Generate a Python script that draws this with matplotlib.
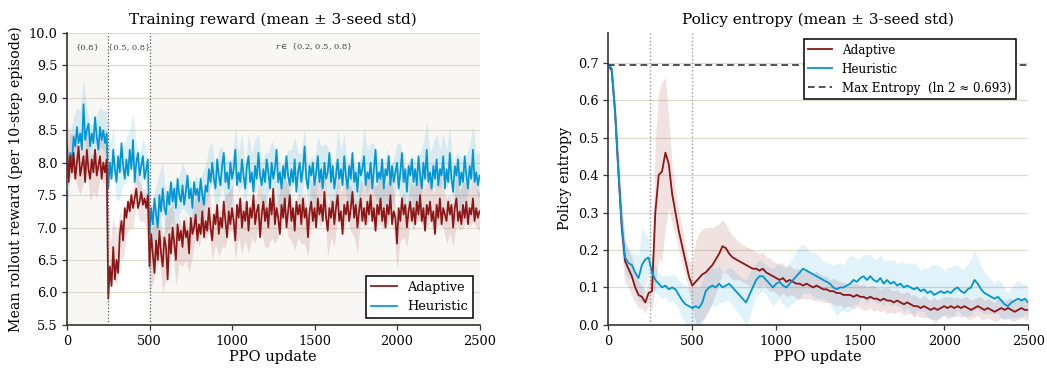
import numpy as np
import matplotlib
matplotlib.use('Agg')
import matplotlib.pyplot as plt

plt.rcParams['font.family'] = ['DejaVu Serif']
plt.rcParams['mathtext.fontset'] = 'dejavuserif'

# reward curves were read every 10 updates, everything else every 20
updates_fine = np.arange(0, 2501, 10)
updates = np.arange(0, 2501, 20)
phase_edges = [250, 500]

heur_reward = [
    7.6, 7.9, 8.15, 8.0, 8.4, 8.25, 8.55, 8.3, 8.45, 8.2, 8.9, 8.35, 8.5, 8.6, 8.25, 8.45, 8.3, 8.7, 8.4, 8.2,
    8.55, 8.35, 8.5, 8.3, 8.45,
    7.6, 8.0, 7.75, 8.2, 7.9, 7.7, 8.1, 7.85, 8.3, 7.95, 7.75, 8.05, 7.8, 8.2, 7.9, 8.35, 7.7, 8.0, 8.15, 7.8,
    7.95, 8.1, 7.75, 7.9, 8.05,
    6.9, 7.3, 7.05, 7.45, 7.2, 7.0, 7.5, 7.25, 7.6, 7.3,
    7.2, 7.55, 7.35, 7.7, 7.4, 7.6, 7.3, 7.75, 7.5, 7.4,
    7.65, 7.35, 7.55, 7.8, 7.45, 7.6, 7.3, 7.7, 7.5, 7.6,
    7.4, 7.75, 7.5, 7.35, 7.65, 7.55, 7.9, 7.7, 8.0, 7.75,
    7.6, 8.05, 7.8, 7.65, 7.95, 8.15, 7.7, 7.85, 7.6, 8.0,
    7.75, 7.9, 8.2, 7.65, 7.85, 7.7, 8.05, 7.8, 7.6, 7.95,
    8.1, 7.7, 7.85, 7.55, 7.95, 7.75, 8.15, 7.8, 7.65, 7.9,
    7.7, 8.05, 7.85, 7.6, 8.0, 7.75, 7.9, 8.2, 7.7, 7.85,
    7.6, 7.95, 7.75, 8.1, 7.8, 7.65, 7.9, 7.7, 8.05, 7.55,
    7.85, 8.0, 7.7, 7.9, 8.25, 7.75, 7.6, 7.95, 7.8, 8.0,
    7.65, 7.85, 8.1, 7.7, 7.9, 7.6, 8.0, 7.75, 7.85, 8.15,
    7.7, 7.95, 7.6, 7.8, 8.05, 7.75, 7.9, 7.65, 8.1, 7.8,
    7.6, 7.95, 7.75, 8.15, 7.7, 7.85, 7.55, 8.0, 7.8, 7.9,
    8.1, 7.65, 7.85, 7.75, 8.0, 7.6, 7.9, 8.2, 7.7, 7.85,
    7.75, 8.05, 7.6, 7.9, 7.8, 8.1, 7.65, 7.95, 7.7, 7.85,
    8.0, 7.6, 7.85, 8.15, 7.7, 7.9, 7.55, 7.95, 7.8, 8.05,
    7.7, 7.9, 7.65, 8.1, 7.8, 7.6, 8.0, 7.75, 8.2, 7.7,
    7.85, 7.6, 7.95, 7.75, 8.05, 7.65, 7.9, 7.8, 8.1, 7.6,
    7.9, 7.7, 8.15, 7.75, 7.55, 7.95, 7.8, 8.05, 7.65, 7.85,
    7.7, 8.1, 7.8, 7.6, 7.95, 7.75, 8.2, 7.7, 7.85, 7.65,
    7.8]
heur_reward_std = [
    0.4, 0.35, 0.3, 0.3, 0.35, 0.4, 0.3, 0.35, 0.3, 0.35, 0.3, 0.3, 0.35,
    0.3, 0.35, 0.3, 0.4, 0.3, 0.35, 0.3, 0.4, 0.3, 0.35, 0.3, 0.3,
    0.4, 0.35, 0.45, 0.35, 0.4, 0.3, 0.35, 0.3, 0.35, 0.3, 0.35, 0.3, 0.3, 0.35, 0.3, 0.3, 0.35, 0.3, 0.35, 0.3,
    0.3, 0.4, 0.3, 0.35, 0.45, 0.3, 0.35, 0.3, 0.4, 0.3, 0.35, 0.3, 0.4, 0.3, 0.35, 0.45, 0.3, 0.35, 0.3, 0.4,
    0.3, 0.35, 0.4, 0.3, 0.35, 0.3, 0.45, 0.3, 0.35, 0.3, 0.4, 0.3, 0.35, 0.3, 0.4, 0.35, 0.3, 0.45, 0.3, 0.35,
    0.3, 0.4, 0.3, 0.35, 0.3, 0.45, 0.35, 0.3, 0.4, 0.3, 0.35, 0.3, 0.4, 0.3, 0.35, 0.3, 0.45, 0.3, 0.35, 0.3,
    0.4, 0.3, 0.35, 0.3, 0.45, 0.3, 0.35, 0.4, 0.3, 0.35, 0.3, 0.4, 0.3, 0.35, 0.45, 0.3, 0.35, 0.3, 0.4, 0.3, 0.35]

adapt_reward = [
    8.3, 7.7, 8.1, 7.85, 8.15, 7.75, 8.0, 8.25, 7.8, 7.95, 8.1, 7.7, 8.2, 7.9, 7.75, 8.05, 7.85, 8.2, 7.8, 7.95,
    8.1, 7.75, 8.0, 7.85, 8.05,
    5.9, 6.4, 6.1, 6.7, 6.2, 6.5, 6.3, 6.9, 7.1, 6.8, 7.3, 7.15, 7.4, 7.25, 7.5, 7.3, 7.45, 7.6, 7.3, 7.4,
    7.55, 7.35, 7.45, 7.3, 7.5,
    6.4, 6.9, 6.6, 6.3, 6.8, 6.5, 6.95, 6.6, 6.4, 6.85,
    6.7, 6.2, 6.9, 6.6, 7.0, 6.75, 6.5, 7.05, 6.8, 6.95,
    6.7, 7.1, 6.85, 6.95, 6.6, 7.15, 6.9, 7.0, 7.2, 6.8,
    7.05, 6.9, 7.25, 6.85, 7.1, 6.95, 7.3, 7.0, 6.8, 7.2,
    7.05, 7.35, 6.9, 7.15, 7.0, 7.4, 7.1, 6.85, 7.25, 7.05,
    7.3, 7.1, 6.8, 7.35, 7.15, 7.45, 7.0, 7.25, 7.1, 7.4,
    6.95, 7.3, 7.15, 7.5, 7.05, 7.25, 7.35, 6.85, 7.2, 7.4,
    7.1, 7.3, 7.0, 7.45, 7.2, 7.6, 7.05, 7.3, 7.15, 6.9,
    7.35, 7.15, 7.45, 7.0, 7.25, 7.5, 7.1, 7.3, 6.95, 7.4,
    7.2, 7.35, 7.05, 7.45, 7.15, 7.3, 6.85, 7.25, 7.4, 7.1,
    7.3, 7.0, 7.45, 7.2, 7.35, 7.1, 7.55, 7.15, 6.95, 7.3,
    7.15, 7.4, 7.05, 7.3, 7.5, 7.1, 7.25, 6.9, 7.35, 7.2,
    7.4, 7.1, 7.3, 7.55, 7.15, 7.35, 7.0, 7.25, 7.45, 7.1,
    7.3, 7.05, 7.4, 7.2, 7.5, 7.1, 7.3, 6.95, 7.35, 7.2,
    7.45, 7.1, 7.3, 7.0, 7.35, 7.2, 7.5, 7.05, 7.25, 7.15,
    6.75, 7.3, 7.1, 7.45, 7.2, 7.35, 7.0, 7.25, 7.4, 7.1,
    7.3, 7.05, 7.4, 7.2, 7.5, 7.1, 7.3, 6.95, 7.35, 7.2,
    7.4, 7.1, 7.25, 6.9, 7.35, 7.15, 7.45, 7.05, 7.3, 7.2,
    7.1, 7.4, 7.2, 7.35, 7.0, 7.3, 7.45, 7.1, 7.25, 7.05,
    7.35, 7.15, 7.4, 7.05, 7.3, 7.2, 7.45, 7.1, 7.3, 7.15,
    7.25]
adapt_reward_std = [
    0.3, 0.35, 0.3, 0.35, 0.3, 0.4, 0.3, 0.35, 0.3, 0.35, 0.3, 0.35, 0.3,
    0.35, 0.45, 0.4, 0.35, 0.3, 0.25, 0.25, 0.3, 0.25, 0.3, 0.25, 0.3,
    0.4, 0.45, 0.4, 0.45, 0.4, 0.5, 0.4, 0.35, 0.4, 0.35, 0.3, 0.35, 0.3, 0.35, 0.3, 0.35, 0.3, 0.3, 0.35, 0.3,
    0.3, 0.35, 0.3, 0.4, 0.3, 0.35, 0.3, 0.3, 0.4, 0.3, 0.35, 0.3, 0.3, 0.35, 0.3, 0.4, 0.3, 0.35, 0.3, 0.3,
    0.35, 0.3, 0.4, 0.3, 0.3, 0.35, 0.3, 0.4, 0.3, 0.35, 0.3, 0.3, 0.35, 0.3, 0.4, 0.3, 0.35, 0.3, 0.3, 0.35,
    0.3, 0.35, 0.3, 0.4, 0.3, 0.3, 0.35, 0.3, 0.35, 0.3, 0.4, 0.3, 0.35, 0.3, 0.3, 0.4, 0.3, 0.35, 0.3, 0.3,
    0.35, 0.3, 0.4, 0.3, 0.35, 0.3, 0.3, 0.35, 0.4, 0.3, 0.35, 0.3, 0.3, 0.4, 0.3, 0.35, 0.3, 0.3, 0.35, 0.3, 0.3]

adapt_entropy = [
    0.693, 0.68, 0.57, 0.41, 0.26, 0.17, 0.15, 0.13, 0.10, 0.08, 0.075, 0.06, 0.085,
    0.09, 0.30, 0.40, 0.41, 0.46, 0.43, 0.35, 0.30, 0.25, 0.21, 0.17, 0.13,
    0.105, 0.115, 0.125, 0.135, 0.14, 0.15, 0.16, 0.175, 0.19, 0.21, 0.205, 0.19, 0.18, 0.175, 0.17, 0.165, 0.16, 0.155, 0.15, 0.15,
    0.145, 0.15, 0.14, 0.135, 0.13, 0.125, 0.12, 0.125, 0.115, 0.12, 0.115, 0.11, 0.11, 0.105, 0.11, 0.105, 0.10, 0.105, 0.10, 0.095,
    0.095, 0.09, 0.09, 0.085, 0.085, 0.08, 0.08, 0.08, 0.075, 0.08, 0.075, 0.075, 0.07, 0.075, 0.07, 0.07, 0.065, 0.07, 0.065, 0.065,
    0.06, 0.065, 0.06, 0.055, 0.06, 0.055, 0.05, 0.05, 0.045, 0.05, 0.045, 0.04, 0.045, 0.04, 0.045, 0.05, 0.045, 0.05, 0.045, 0.05,
    0.045, 0.05, 0.045, 0.04, 0.045, 0.05, 0.045, 0.04, 0.045, 0.04, 0.035, 0.04, 0.045, 0.04, 0.045, 0.04, 0.035, 0.04, 0.045, 0.04, 0.04]
adapt_entropy_std = [
    0.005, 0.01, 0.04, 0.06, 0.07, 0.06, 0.05, 0.05, 0.04, 0.035, 0.03, 0.03, 0.03,
    0.05, 0.2, 0.22, 0.24, 0.2, 0.12, 0.08, 0.06, 0.05, 0.05, 0.04, 0.04,
    0.06, 0.11, 0.12, 0.12, 0.12, 0.11, 0.1, 0.09, 0.08, 0.07, 0.065, 0.06, 0.06, 0.055, 0.05, 0.05, 0.05, 0.05, 0.05, 0.045,
    0.045, 0.045, 0.04, 0.045, 0.04, 0.04, 0.045, 0.04, 0.04, 0.04, 0.035, 0.04, 0.04, 0.035, 0.04, 0.035, 0.035, 0.04, 0.035, 0.035,
    0.035, 0.03, 0.035, 0.035, 0.03, 0.035, 0.03, 0.03, 0.035, 0.03, 0.03, 0.035, 0.03, 0.03, 0.035, 0.03, 0.03, 0.03, 0.035, 0.03,
    0.03, 0.03, 0.025, 0.03, 0.03, 0.025, 0.03, 0.025, 0.025, 0.03, 0.025, 0.025, 0.03, 0.025, 0.025, 0.025, 0.03, 0.025, 0.025, 0.025,
    0.025, 0.025, 0.03, 0.025, 0.025, 0.025, 0.03, 0.025, 0.025, 0.025, 0.025, 0.03, 0.025, 0.025, 0.025, 0.03, 0.025, 0.025, 0.025, 0.025, 0.025]

heur_entropy = [
    0.693, 0.685, 0.57, 0.41, 0.27, 0.18, 0.165, 0.16, 0.14, 0.125, 0.16, 0.175, 0.18,
    0.14, 0.12, 0.11, 0.10, 0.105, 0.095, 0.10, 0.095, 0.08, 0.065, 0.055, 0.05,
    0.045, 0.05, 0.045, 0.06, 0.09, 0.10, 0.105, 0.10, 0.11, 0.10, 0.105, 0.11, 0.10, 0.09, 0.08, 0.07, 0.06, 0.08, 0.10, 0.12,
    0.13, 0.13, 0.12, 0.11, 0.10, 0.11, 0.115, 0.105, 0.10, 0.11, 0.12, 0.13, 0.14, 0.15, 0.145, 0.14, 0.135, 0.13, 0.125, 0.12,
    0.115, 0.11, 0.10, 0.095, 0.10, 0.10, 0.105, 0.11, 0.12, 0.115, 0.125, 0.13, 0.12, 0.13, 0.12, 0.115, 0.125, 0.11, 0.12, 0.11,
    0.115, 0.105, 0.11, 0.10, 0.105, 0.10, 0.095, 0.10, 0.09, 0.095, 0.085, 0.09, 0.08, 0.085, 0.09, 0.085, 0.09, 0.085, 0.095, 0.10,
    0.09, 0.085, 0.095, 0.10, 0.12, 0.11, 0.095, 0.085, 0.08, 0.075, 0.07, 0.075, 0.065, 0.055, 0.05, 0.06, 0.065, 0.07, 0.065, 0.07, 0.06]
heur_entropy_std = [
    0.005, 0.01, 0.03, 0.04, 0.05, 0.04, 0.04, 0.035, 0.05, 0.06, 0.1, 0.07, 0.05,
    0.04, 0.035, 0.03, 0.03, 0.03, 0.035, 0.035, 0.04, 0.04, 0.045, 0.05, 0.05,
    0.05, 0.05, 0.055, 0.06, 0.06, 0.06, 0.05, 0.05, 0.05, 0.04, 0.04, 0.045, 0.05, 0.05, 0.05, 0.055, 0.06, 0.06, 0.05, 0.045,
    0.045, 0.04, 0.04, 0.045, 0.05, 0.05, 0.045, 0.05, 0.055, 0.06, 0.06, 0.065, 0.07, 0.065, 0.06, 0.055, 0.06, 0.06, 0.055, 0.05,
    0.05, 0.055, 0.06, 0.07, 0.065, 0.06, 0.07, 0.075, 0.065, 0.06, 0.055, 0.06, 0.065, 0.06, 0.055, 0.06, 0.065, 0.06, 0.055, 0.06,
    0.06, 0.055, 0.06, 0.065, 0.06, 0.065, 0.07, 0.06, 0.055, 0.06, 0.065, 0.07, 0.08, 0.075, 0.065, 0.06, 0.065, 0.07, 0.065, 0.06,
    0.06, 0.065, 0.07, 0.075, 0.08, 0.07, 0.06, 0.055, 0.05, 0.045, 0.04, 0.045, 0.05, 0.04, 0.035, 0.04, 0.045, 0.05, 0.045, 0.04, 0.04]

phase_labels = ['{0.8}', '{0.5, 0.8}', r'$r \in$ {0.2, 0.5, 0.8}']
phase_label_x = [127, 378, 1495]
max_entropy = np.log(2)

RED = '#8c1515'
BLUE = '#0096d6'
GRID = '#dedbcf'
SPINE = '#333333'


def style_axes(ax):
    for side in ['top', 'right']:
        ax.spines[side].set_visible(False)
    for side in ['left', 'bottom']:
        ax.spines[side].set_color(SPINE)
        ax.spines[side].set_linewidth(1.2)
    ax.yaxis.grid(True, color=GRID, lw=0.9)
    ax.set_axisbelow(True)
    ax.tick_params(direction='out', length=3.5, width=0.9, color=SPINE, labelsize=9.3)


def band(ax, x, mean, std, color, alpha):
    mean = np.asarray(mean)
    std = np.asarray(std)
    ax.fill_between(x, mean - std, mean + std, color=color, alpha=alpha, lw=0)


fig = plt.figure(figsize=(10.47, 3.73), dpi=100)

# --- left: training reward ---
ax1 = fig.add_axes([0.064, 0.129, 0.394, 0.783])
ax1.set_facecolor('#f8f7f4')
ax1.axvspan(phase_edges[0], phase_edges[1], color='white', lw=0, zorder=0)
style_axes(ax1)
band(ax1, updates, np.asarray(heur_reward)[::2], heur_reward_std, BLUE, 0.13)
band(ax1, updates, np.asarray(adapt_reward)[::2], adapt_reward_std, RED, 0.12)
ax1.plot(updates_fine, heur_reward, color=BLUE, lw=1.25, label='Heuristic', zorder=3)
ax1.plot(updates_fine, adapt_reward, color=RED, lw=1.25, label='Adaptive', zorder=4)
for e in phase_edges:
    ax1.axvline(e, color='#555555', ls=':', lw=0.9, zorder=5)
for lab, lx in zip(phase_labels, phase_label_x):
    ax1.text(lx, 9.78, lab, ha='center', va='center', fontsize=6, color='#444444')
ax1.set_xlim(0, 2500)
ax1.set_ylim(5.5, 10.0)
ax1.set_yticks(np.arange(5.5, 10.01, 0.5))
ax1.set_xticks([0, 500, 1000, 1500, 2000, 2500])
ax1.set_xlabel('PPO update', fontsize=10.5, labelpad=2)
ax1.set_ylabel('Mean rollout reward (per 10-step episode)', fontsize=10.2, labelpad=4)
ax1.set_title('Training reward (mean ± 3-seed std)', fontsize=11.1, pad=6)
h, l = ax1.get_legend_handles_labels()
leg1 = ax1.legend([h[1], h[0]], [l[1], l[0]], loc='lower right', fontsize=9.3,
                  fancybox=False, framealpha=1, edgecolor='black')
leg1.get_frame().set_linewidth(1.1)

# --- right: policy entropy ---
ax2 = fig.add_axes([0.581, 0.129, 0.401, 0.783])
style_axes(ax2)
band(ax2, updates, adapt_entropy, adapt_entropy_std, RED, 0.12)
band(ax2, updates, heur_entropy, heur_entropy_std, BLUE, 0.12)
ax2.plot(updates, adapt_entropy, color=RED, lw=1.3, label='Adaptive', zorder=3)
ax2.plot(updates, heur_entropy, color=BLUE, lw=1.3, label='Heuristic', zorder=4)
ax2.axhline(max_entropy, color='#333333', ls='--', lw=1.2, dashes=(4, 2.5),
            label='Max Entropy  (ln 2 ≈ 0.693)', zorder=5)
for e in phase_edges:
    ax2.axvline(e, color='#999999', ls=':', lw=1.0, zorder=2)
ax2.set_xlim(0, 2500)
ax2.set_ylim(0, 0.78)
ax2.set_yticks(np.arange(0, 0.71, 0.1))
ax2.set_xticks([0, 500, 1000, 1500, 2000, 2500])
ax2.set_xlabel('PPO update', fontsize=10.5, labelpad=2)
ax2.set_ylabel('Policy entropy', fontsize=10.3, labelpad=4)
ax2.set_title('Policy entropy (mean ± 3-seed std)', fontsize=11.1, pad=6)
leg2 = ax2.legend(loc='upper right', fontsize=8.6, fancybox=False, framealpha=1,
                  edgecolor='black', bbox_to_anchor=(0.985, 1.0))
leg2.get_frame().set_linewidth(1.1)

fig.savefig('out.png', dpi=100)
